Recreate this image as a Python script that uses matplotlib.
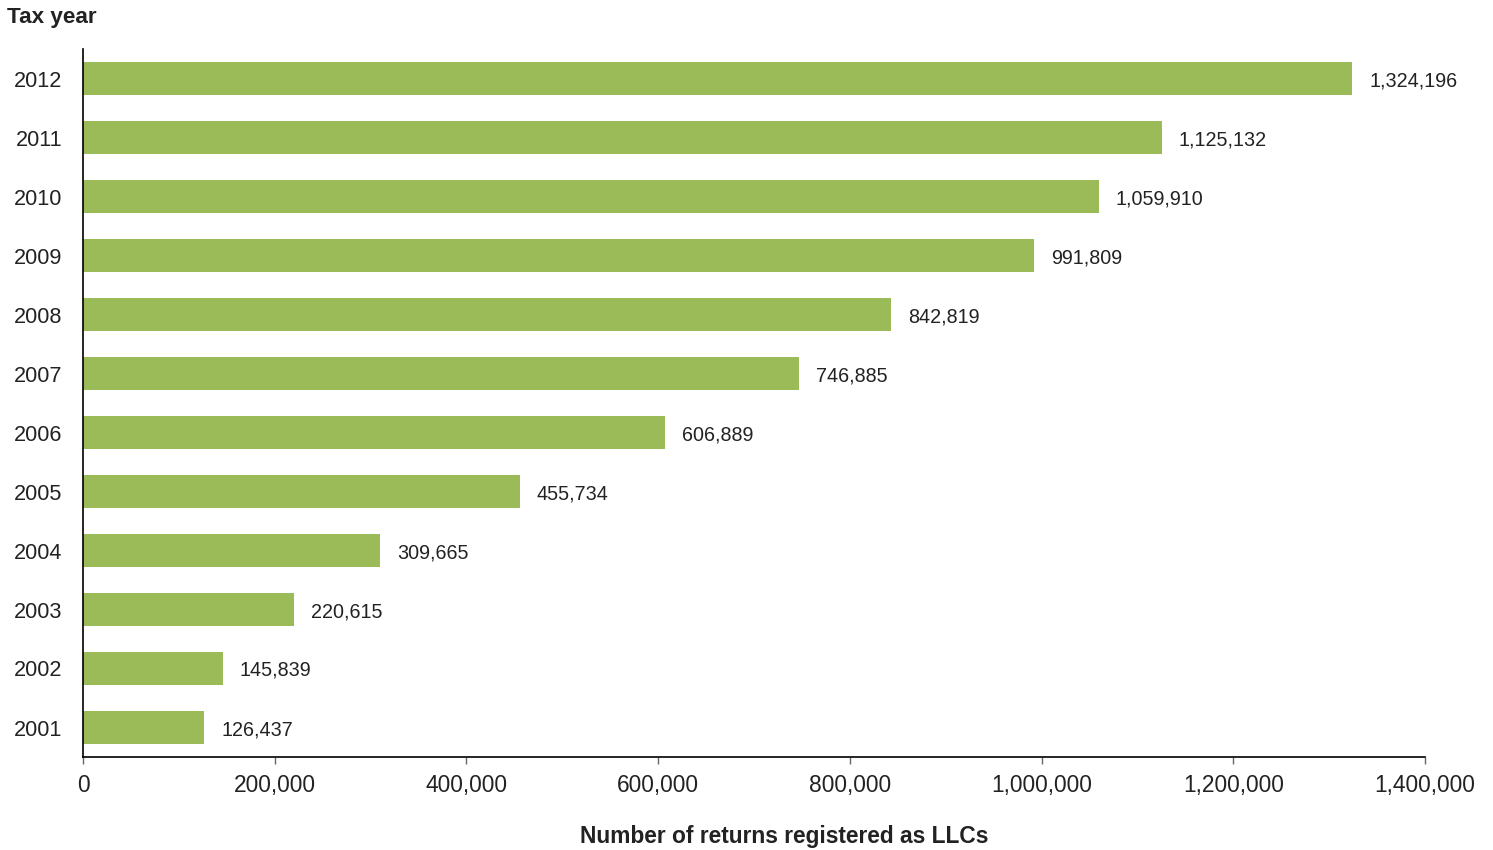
import matplotlib
matplotlib.use("Agg")
import matplotlib.pyplot as plt
from matplotlib.ticker import FuncFormatter

years = ["2001", "2002", "2003", "2004", "2005", "2006", "2007", "2008", "2009", "2010", "2011", "2012"]
returns = [126437, 145839, 220615, 309665, 455734, 606889, 746885, 842819, 991809, 1059910, 1125132, 1324196]
xticks = [0, 200000, 400000, 600000, 800000, 1000000, 1200000, 1400000]

plt.rcParams['font.family'] = ['Liberation Sans', 'DejaVu Sans']
text_color = '#222222'

W, H = 1493, 850
fig = plt.figure(figsize=(W / 100, H / 100), dpi=100)
ax = fig.add_axes([83 / W, 1 - 757 / H, (1425 - 83) / W, (757 - 49) / H])

pos = list(range(len(years)))
ax.barh(pos, returns, height=0.55, color='#9BBB59', edgecolor='none')

for p, v in zip(pos, returns):
    ax.annotate(f"{v:,}", xy=(v, p), xytext=(17, 0), textcoords='offset pixels',
                va='center_baseline', ha='left', fontsize=14.2, color=text_color)

ax.set_xlim(0, 1400000)
ax.set_ylim(-0.5, len(years) - 0.5)
ax.set_yticks(pos)
ax.set_yticklabels(years, fontsize=15.6, color=text_color)
ax.tick_params(axis='y', length=0, pad=15)
ax.set_xticks(xticks)
ax.xaxis.set_major_formatter(FuncFormatter(lambda x, _: f"{int(x):,}"))
ax.tick_params(axis='x', length=5, width=1, color='#666666', labelsize=16.4,
               labelcolor=text_color, pad=7)

for s in ['top', 'right']:
    ax.spines[s].set_visible(False)
for s in ['left', 'bottom']:
    ax.spines[s].set_color('#000000')
    ax.spines[s].set_linewidth(1.2)

fig.text(7 / W, 1 - 17 / H, "Tax year", fontsize=16.2, fontweight='bold',
         color=text_color, ha='left', va='center')
fig.text(784 / W, 1 - 837 / H, "Number of returns registered as LLCs", fontsize=16.4,
         fontweight='bold', color=text_color, ha='center', va='center')

fig.savefig("out.png", dpi=100, facecolor='white')
